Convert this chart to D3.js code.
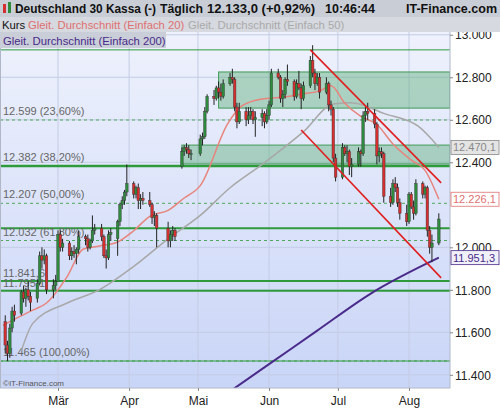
<!DOCTYPE html>
<html><head><meta charset="utf-8">
<script src="https://cdn.jsdelivr.net/npm/d3@7"></script>
<style>body{margin:0;background:#fff;font-family:"Liberation Sans",Arial,sans-serif}</style>
</head><body><svg id="c" width="500" height="408"></svg>
<script>
// candles [open, high, low, close], one per trading day from 2017-02-06
var candles = [
[11650,11680,11500,11540],[11540,11560,11465,11500],[11500,11640,11480,11620],[11620,11720,11600,11700],[11700,11730,11650,11680],
[11690,11800,11680,11790],[11790,11820,11740,11760],[11760,11810,11720,11800],[11800,11840,11750,11770],[11770,11790,11700,11740],
[11760,11850,11740,11830],[11830,11980,11820,11960],[11960,12000,11900,11940],[11940,11990,11920,11960],[11960,11970,11780,11800],
[11800,11850,11760,11820],[11820,11870,11800,11840],[11840,12080,11840,12060],[12060,12080,11980,12000],[12000,12040,11980,12020],
[12020,12030,11940,11960],[11960,12000,11940,11980],[11980,12010,11950,11970],[11970,12000,11920,11990],[11990,12080,11970,12050],
[12050,12060,12010,12040],[12040,12060,11980,12000],[12000,12040,11990,12030],[12030,12150,12020,12080],[12080,12110,12060,12090],
[12090,12110,12030,12050],[12050,12060,11950,11960],[11960,11990,11900,11950],[11950,12080,11940,12060],[12060,12090,12030,12070],
[12040,12130,11960,12120],[12120,12210,12100,12200],[12200,12240,12180,12220],[12220,12270,12200,12260],[12260,12390,12240,12300],
[12300,12310,12230,12250],[12250,12290,12230,12280],[12280,12300,12180,12220],[12220,12250,12180,12230],[12230,12260,12200,12220],
[12220,12260,12190,12200],[12200,12210,12110,12140],[12140,12170,12100,12150],[12150,12160,12000,12090],
[12090,12120,12000,12030],[12030,12080,12000,12060],[12060,12100,12030,12080],[12080,12090,12030,12050],
[12380,12470,12370,12450],[12450,12480,12430,12470],[12470,12490,12440,12460],[12460,12480,12420,12440],[12440,12460,12410,12440],
[12440,12530,12430,12510],[12510,12540,12480,12520],[12520,12660,12510,12640],[12640,12720,12630,12710],
[12710,12740,12670,12700],[12700,12760,12690,12750],[12750,12780,12700,12730],[12730,12770,12690,12710],[12710,12790,12700,12770],
[12770,12820,12760,12800],[12800,12840,12770,12790],[12790,12800,12640,12660],[12660,12680,12560,12590],[12590,12680,12580,12640],
[12640,12660,12570,12600],[12600,12660,12580,12620],[12620,12660,12600,12640],[12640,12650,12580,12600],[12600,12640,12520,12610],
[12610,12650,12570,12630],[12630,12640,12560,12590],[12590,12650,12580,12620],[12620,12690,12600,12670],[12670,12840,12660,12820],
[12820,12840,12790,12800],[12800,12810,12680,12700],[12700,12740,12660,12720],[12720,12800,12700,12790],[12790,12860,12760,12780],
[12780,12790,12690,12710],[12710,12790,12700,12770],[12770,12830,12740,12750],[12750,12770,12650,12700],[12700,12780,12690,12760],
[12760,12900,12750,12880],[12880,12951,12800,12820],[12820,12840,12740,12770],[12770,12820,12760,12800],[12800,12820,12700,12730],
[12730,12800,12720,12770],[12770,12780,12640,12670],[12670,12690,12620,12650],[12650,12660,12400,12420],[12420,12440,12310,12330],
[12330,12490,12320,12470],[12470,12480,12430,12440],[12440,12480,12400,12450],[12450,12460,12340,12380],[12380,12420,12330,12390],
[12390,12470,12380,12450],[12450,12460,12380,12440],[12440,12640,12430,12620],[12620,12660,12590,12640],[12640,12680,12600,12630],
[12630,12650,12560,12580],[12580,12590,12390,12430],[12430,12470,12400,12450],[12450,12470,12420,12440],[12440,12450,12210,12240],
[12240,12280,12190,12210],[12210,12320,12200,12300],[12300,12330,12260,12280],[12280,12300,12190,12210],[12210,12230,12130,12160],
[12160,12200,12100,12120],[12120,12260,12110,12250],[12250,12260,12180,12190],[12190,12220,12130,12160],[12160,12320,12150,12300],
[12300,12310,12230,12250],[12250,12290,12230,12280],[12280,12290,12050,12080],[12080,12100,11970,12000],[12000,12060,11930,12020],
[12020,12160,12010,12133]
];
var holidays = ["2017-04-14", "2017-04-17", "2017-05-01"];

var sma20 = [["2017-02-05",11632],["2017-02-09",11656],["2017-02-18",11704],["2017-02-24",11738],["2017-03-05",11862],
  ["2017-03-12",11992],["2017-03-19",12006],["2017-03-27",12025],["2017-04-03",12078],["2017-04-10",12146],["2017-04-18",12174],
  ["2017-04-25",12232],["2017-05-02",12290],["2017-05-14",12582],["2017-05-20",12664],["2017-05-29",12698],["2017-06-07",12706],
  ["2017-06-16",12722],["2017-06-23",12736],["2017-06-28",12760],["2017-07-04",12678],["2017-07-11",12616],["2017-07-18",12578],
  ["2017-07-25",12486],["2017-08-02",12410],["2017-08-08",12362],["2017-08-14",12226]];
var sma50 = [["2017-02-13",11512],["2017-02-18",11642],["2017-03-05",11738],["2017-03-19",11800],["2017-04-03",11910],
  ["2017-04-18",12040],["2017-05-02",12150],["2017-05-15",12280],["2017-05-29",12390],["2017-06-16",12544],["2017-06-29",12674],
  ["2017-07-07",12680],["2017-07-21",12630],["2017-08-05",12570],["2017-08-14",12470]];
var sma200 = [["2017-05-16",11330],["2017-06-01",11450],["2017-06-22",11608],["2017-07-15",11780],["2017-08-14",11951]];

var fibLevels = [[12599,"12.599 (23,60%)"],[12382,"12.382 (38,20%)"],[12207,"12.207 (50,00%)"],[12032,"12.032 (61,80%)"],[11465,"11.465 (100,00%)"]];
var supports = [[12929,1],[12382,2.5],[12090,2],[11841,2],[11795,2],[11465,1]];
var supportLabels = [[11841,"11.841,6"],[11795,"11.795,1"]];
var zones = [["2017-05-10",12825,12655],["2017-04-24",12481,12392]];
var channels = [[["2017-06-19",12929],["2017-08-15",12303]],[["2017-06-15",12552],["2017-08-15",11856]]];
var yTicks = [11400,11600,11800,12000,12400,12600,12800,13000];
var months = ["2017-03-01","2017-04-01","2017-05-01","2017-06-01","2017-07-01","2017-08-01"];
var monthNames = ["Mär","Apr","Mai","Jun","Jul","Aug"];
var lastTags = [[12470.1, "#888", "#e4e4e4"], [12226.1, "#e07070", "#fff"], [11951.3, "#4a2a8a", "#f0f0f8"]];

var P = d3.timeParse("%Y-%m-%d");
var pw = 450, pTop = 18, pBot = 388;
var x = d3.scaleTime().domain([P("2017-03-01"), P("2017-08-01")]).range([58, 409]);
var y = d3.scaleLinear().domain([12599, 11465]).range([120, 361]);
var de = function(v, n) { return d3.format(",." + n + "f")(v).replace(/,/g, "#").replace(".", ",").replace(/#/g, "."); };

// trading days
var days = [], d = P("2017-02-06");
while (days.length < candles.length) {
  var s = d3.timeFormat("%Y-%m-%d")(d);
  if (d.getDay() > 0 && d.getDay() < 6 && holidays.indexOf(s) < 0) days.push(new Date(d));
  d = d3.timeDay.offset(d, 1);
}

var svg = d3.select("#c");
var defs = svg.append("defs");
var g0 = defs.append("linearGradient").attr("id", "bg").attr("x1", 0).attr("y1", 0).attr("x2", 0).attr("y2", 1);
g0.append("stop").attr("offset", 0).attr("stop-color", "#f0f3fd");
g0.append("stop").attr("offset", 1).attr("stop-color", "#c9d5f7");
svg.append("rect").attr("x", 0).attr("y", pTop).attr("width", pw).attr("height", pBot - pTop).attr("fill", "url(#bg)");
defs.append("clipPath").attr("id", "cp").append("rect").attr("x", 0).attr("y", pTop).attr("width", pw).attr("height", pBot - pTop);

var plot = svg.append("g").attr("clip-path", "url(#cp)");
plot.selectAll(".vg").data(months).enter().append("line").attr("x1", function(m) { return x(P(m)); }).attr("x2", function(m) { return x(P(m)); })
  .attr("y1", pTop).attr("y2", pBot).attr("stroke", "#c4cce4");
plot.selectAll(".hg").data(yTicks).enter().append("line").attr("x1", 0).attr("x2", pw).attr("y1", y).attr("y2", y).attr("stroke", "#c4cce4");

plot.selectAll(".zone").data(zones).enter().append("rect").attr("x", function(z) { return x(P(z[0])); }).attr("width", function(z) { return pw - x(P(z[0])); })
  .attr("y", function(z) { return y(z[1]); }).attr("height", function(z) { return y(z[2]) - y(z[1]); })
  .attr("fill", "#5fb07a").attr("fill-opacity", 0.45).attr("stroke", "#3f9a55");

plot.selectAll(".fib").data(fibLevels).enter().append("line").attr("x1", 0).attr("x2", pw).attr("y1", function(f) { return y(f[0]); }).attr("y2", function(f) { return y(f[0]); })
  .attr("stroke", "#4fa860").attr("stroke-dasharray", "3,3");
plot.selectAll(".sup").data(supports).enter().append("line").attr("x1", 0).attr("x2", pw).attr("y1", function(s) { return y(s[0]); }).attr("y2", function(s) { return y(s[0]); })
  .attr("stroke", "#2f9a3c").attr("stroke-width", function(s) { return s[1]; });

plot.selectAll(".fibt").data(fibLevels).enter().append("text").attr("x", 3).attr("y", function(f) { return y(f[0]) - 5; })
  .attr("font-size", 11).attr("fill", "#666").text(function(f) { return f[1]; });
plot.selectAll(".supt").data(supportLabels).enter().append("text").attr("x", 3).attr("y", function(s) { return y(s[0]) - 4; })
  .attr("font-size", 11).attr("fill", "#666").text(function(s) { return s[1]; });

var line = d3.line().x(function(p) { return x(P(p[0])); }).y(function(p) { return y(p[1]); }).curve(d3.curveMonotoneX);
plot.append("path").attr("d", line(sma50)).attr("fill", "none").attr("stroke", "#a8a8a8").attr("stroke-width", 1.5);
plot.append("path").attr("d", line(sma20)).attr("fill", "none").attr("stroke", "#e8847c").attr("stroke-width", 1.5);
plot.append("path").attr("d", line(sma200)).attr("fill", "none").attr("stroke", "#4a2a8a").attr("stroke-width", 2);

var cw = 2.6;
var cg = plot.selectAll(".cd").data(candles).enter().append("g");
cg.append("line").attr("x1", function(c, i) { return x(days[i]); }).attr("x2", function(c, i) { return x(days[i]); })
  .attr("y1", function(c) { return y(c[1]); }).attr("y2", function(c) { return y(c[2]); }).attr("stroke", "#222");
cg.append("rect").attr("x", function(c, i) { return x(days[i]) - cw / 2; }).attr("width", cw)
  .attr("y", function(c) { return y(Math.max(c[0], c[3])); })
  .attr("height", function(c) { return Math.max(1, Math.abs(y(c[0]) - y(c[3]))); })
  .attr("fill", function(c) { return c[3] >= c[0] ? "#2e8b3e" : "#d62f2f"; }).attr("stroke", "#333").attr("stroke-width", 0.4);

plot.selectAll(".ch").data(channels).enter().append("line")
  .attr("x1", function(c) { return x(P(c[0][0])); }).attr("y1", function(c) { return y(c[0][1]); })
  .attr("x2", function(c) { return x(P(c[1][0])); }).attr("y2", function(c) { return y(c[1][1]); })
  .attr("stroke", "#e02020").attr("stroke-width", 1.6);

svg.append("rect").attr("x", 0.5).attr("y", pTop).attr("width", pw - 0.5).attr("height", pBot - pTop).attr("fill", "none").attr("stroke", "#b0b8c8");
svg.append("text").attr("x", 3).attr("y", 386).attr("font-size", 8).attr("fill", "#555").text("©IT-Finance.com");

// right axis
var ya = svg.append("g").attr("transform", "translate(" + pw + ",0)")
  .call(d3.axisRight(y).tickValues(yTicks).tickSize(3).tickFormat(function(v) { return d3.format(".3f")(v / 1000); }));
ya.select(".domain").remove();
ya.selectAll("text").attr("font-size", 12).attr("fill", "#222").attr("x", 5).attr("dy", "0.35em");
ya.selectAll("line").attr("stroke", "#888");

var tg = svg.selectAll(".tag").data(lastTags).enter().append("g");
tg.append("rect").attr("x", 451).attr("y", function(t) { return y(t[0]) - 7; }).attr("width", 48).attr("height", 14)
  .attr("fill", function(t) { return t[2]; }).attr("stroke", function(t) { return t[1]; }).attr("stroke-width", 0.8);
tg.append("text").attr("x", 453).attr("y", function(t) { return y(t[0]) + 4; }).attr("font-size", 11)
  .attr("fill", function(t) { return t[1]; }).text(function(t) { return de(t[0], 1); });

// x axis
var xa = svg.append("g").attr("transform", "translate(0," + pBot + ")")
  .call(d3.axisBottom(x).tickValues(months.map(P)).tickSize(3).tickFormat(function(m, i) { return monthNames[i]; }));
xa.select(".domain").remove();
xa.selectAll("text").attr("font-size", 12).attr("fill", "#222").attr("dy", "0.9em");
xa.selectAll("line").attr("stroke", "#888");

// header & legend
svg.append("rect").attr("x", 0).attr("y", 0).attr("width", 500).attr("height", 17).attr("fill", "#c9ced6");
svg.append("rect").attr("x", 3).attr("y", 4).attr("width", 3).attr("height", 9).attr("fill", "#d62f2f");
svg.append("rect").attr("x", 8).attr("y", 2).attr("width", 3).attr("height", 11).attr("fill", "#2e8b3e");
var hd = [["Deutschland 30 Kassa (-)", 15, 141], ["Täglich", 160, 43], ["12.133,0 (+0,92%)", 207, 108], ["10:46:44", 325, 50]];
svg.selectAll(".hd").data(hd).enter().append("text").attr("x", function(h) { return h[1]; }).attr("y", 13)
  .attr("textLength", function(h) { return h[2]; }).attr("lengthAdjust", "spacingAndGlyphs")
  .attr("font-size", 12.5).attr("font-weight", "bold").attr("fill", "#111").text(function(h) { return h[0]; });
svg.append("text").attr("x", 497).attr("y", 13).attr("text-anchor", "end").attr("font-size", 12.5).attr("font-weight", "bold").attr("fill", "#111").text("IT-Finance.com");
svg.append("rect").attr("x", 0).attr("y", 17).attr("width", 500).attr("height", 15).attr("fill", "#d6d9df");
svg.append("rect").attr("x", 0).attr("y", 32).attr("width", 166).attr("height", 16).attr("fill", "#c9ced8");
var lg = [["Kurs", "#111", 2], ["Gleit. Durchschnitt (Einfach 20)", "#e07070", 28], ["Gleit. Durchschnitt (Einfach 50)", "#aaa", 188]];
svg.selectAll(".lg").data(lg).enter().append("text").attr("x", function(l) { return l[2]; }).attr("y", 29).attr("font-size", 11.3)
  .attr("fill", function(l) { return l[1]; }).text(function(l) { return l[0]; });
svg.append("text").attr("x", 3).attr("y", 45).attr("font-size", 11.3).attr("fill", "#4a2a8a").text("Gleit. Durchschnitt (Einfach 200)");
</script></body></html>
